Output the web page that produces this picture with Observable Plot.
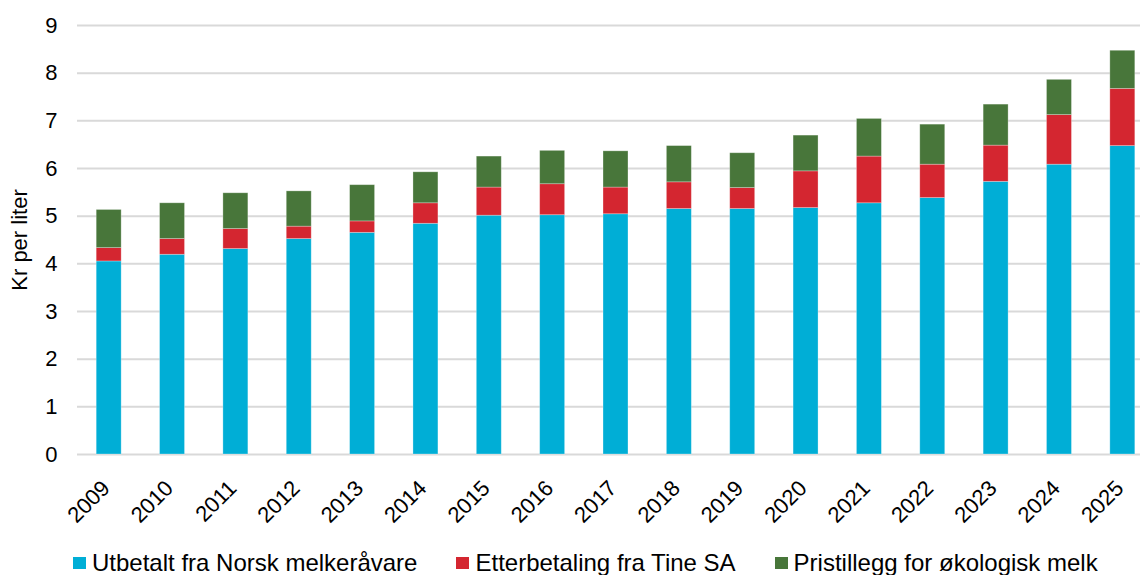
<!DOCTYPE html>
<html>
<head>
<meta charset="utf-8">
<script src="https://cdn.jsdelivr.net/npm/d3@7"></script>
<script src="https://cdn.jsdelivr.net/npm/@observablehq/plot@0.6"></script>
<style>
  html, body { margin: 0; padding: 0; background: #fff; }
  body { width: 1140px; height: 575px; overflow: hidden; font-family: "Liberation Sans", Arial, sans-serif; }
  #chart svg { display: block; }
  #legend { position: absolute; left: 0; top: 549px; height: 28px; display: flex; align-items: center; padding-left: 73px; font-size: 24px; color: #000; }
  .item { display: flex; align-items: center; margin-right: 39px; white-space: nowrap; }
  .sw { width: 13px; height: 12px; margin-right: 6px; }
</style>
</head>
<body>
<div id="chart"></div>
<div id="legend"></div>
<script>
const years = ["2009","2010","2011","2012","2013","2014","2015","2016","2017","2018","2019","2020","2021","2022","2023","2024","2025"];
const utbetalt = [4.05,4.19,4.31,4.52,4.65,4.84,5.01,5.02,5.04,5.15,5.15,5.17,5.27,5.38,5.72,6.08,6.47];
const etterbetaling = [0.28,0.33,0.42,0.26,0.24,0.43,0.59,0.65,0.56,0.56,0.44,0.77,0.98,0.70,0.76,1.04,1.20];
const pristillegg = [0.80,0.75,0.75,0.74,0.76,0.65,0.65,0.70,0.76,0.76,0.73,0.75,0.79,0.84,0.86,0.74,0.80];
const seriesNames = ["Utbetalt fra Norsk melkeråvare", "Etterbetaling fra Tine SA", "Pristillegg for økologisk melk"];
const seriesColors = ["#00AED6", "#D42630", "#48763A"];
const yTicks = [0,1,2,3,4,5,6,7,8,9];

const seriesValues = [utbetalt, etterbetaling, pristillegg];
const data = years.flatMap((year, i) => seriesNames.map((s, k) => ({year, series: s, value: seriesValues[k][i]})));

const chart = Plot.plot({
  width: 1140,
  height: 540,
  marginLeft: 77,
  marginRight: 0,
  marginTop: 25,
  marginBottom: 86,
  style: {fontFamily: "'Liberation Sans', Arial, sans-serif", fontSize: "22px", color: "#000", background: "#fff"},
  x: {type: "band", domain: years, range: [77, 1154], paddingInner: 0.606, paddingOuter: 0.303, round: false},
  y: {domain: [0, 9]},
  color: {domain: seriesNames, range: seriesColors},
  marks: [
    Plot.ruleY(yTicks, {stroke: "#D9D9D9", strokeWidth: 2}),
    Plot.barY(data, {x: "year", y: "value", fill: "series", order: seriesNames, stroke: "#ffffff", strokeOpacity: 0.35, strokeWidth: 0.8}),
    Plot.axisY(yTicks, {tickSize: 0, tickPadding: 20, fontSize: 22, label: "Kr per liter", labelAnchor: "center", labelArrow: "none", labelOffset: 66}),
    Plot.axisX({tickSize: 0, tickPadding: 30, tickRotate: -45, fontSize: 22, label: null, dx: -3})
  ]
});
document.getElementById("chart").appendChild(chart);

const legend = document.getElementById("legend");
seriesNames.forEach((s, k) => {
  const item = document.createElement("div");
  item.className = "item";
  const sw = document.createElement("span");
  sw.className = "sw";
  sw.style.background = seriesColors[k];
  const t = document.createElement("span");
  t.textContent = s;
  item.appendChild(sw);
  item.appendChild(t);
  legend.appendChild(item);
});
</script>
</body>
</html>
